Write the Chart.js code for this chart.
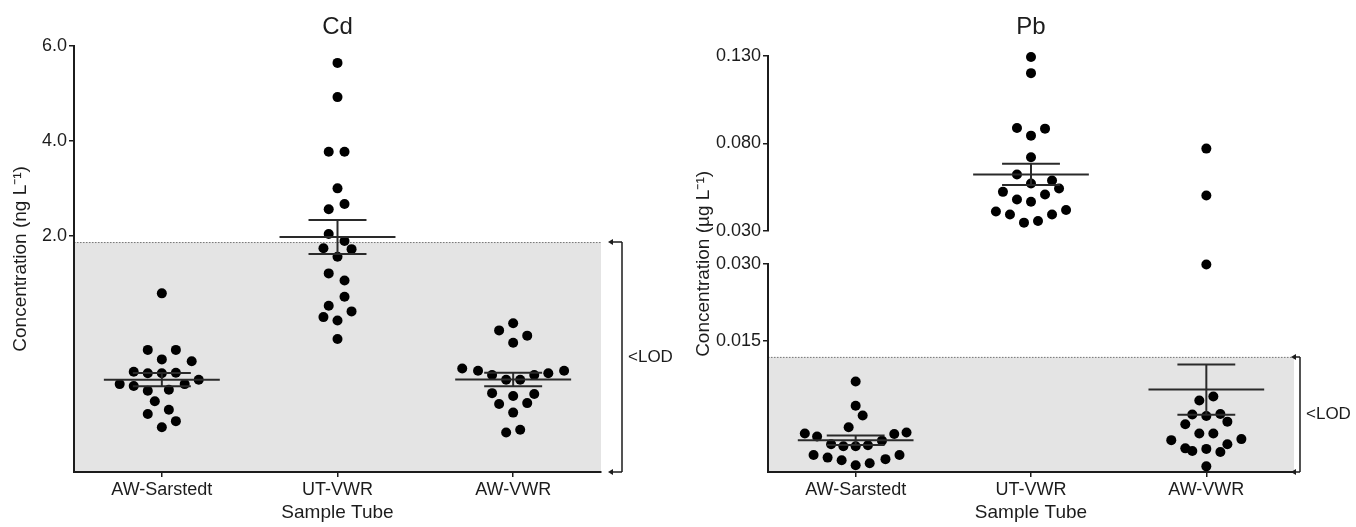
<!DOCTYPE html>
<html>
<head>
<meta charset="utf-8">
<script src="https://cdn.jsdelivr.net/npm/chart.js@4.4.0/dist/chart.umd.min.js"></script>
<style>
	html, body { margin: 0; padding: 0; background: #fff; }
	#wrap { position: relative; width: 1356px; height: 527px; }
	canvas { position: absolute; top: 0; }
	#cdChart { left: 0; }
	#pbChart { left: 678px; }
</style>
</head>
<body>
<div id="wrap">
	<canvas id="cdChart" width="678" height="527"></canvas>
	<canvas id="pbChart" width="678" height="527"></canvas>
</div>
<script>
const categories = ['AW-Sarstedt', 'UT-VWR', 'AW-VWR'];

// Cd, ng/L (blank corrected, so values under the LOD can go below zero)
const cdSarstedt = [0.79, -0.40, -0.40, -0.60, -0.64, -0.86, -0.89, -0.89, -0.88, -1.12,
	-1.16, -1.26, -1.24, -1.12, -1.03, -1.48, -1.75, -1.66, -2.03, -1.90];
const cdSarstedtJitter = [0, -0.08, 0.08, 0, 0.17, -0.16, -0.08, 0, 0.08, -0.24,
	-0.16, -0.08, 0.04, 0.13, 0.21, -0.04, -0.08, 0.04, 0, 0.08];
const cdUtVwr = [5.64, 4.92, 3.77, 3.77, 3.00, 2.56, 2.67, 2.04, 1.89, 1.74,
	1.72, 1.56, 1.21, 1.06, 0.72, 0.53, 0.41, 0.29, 0.22, -0.17];
const cdUtVwrJitter = [0, 0, -0.05, 0.04, 0, -0.05, 0.04, -0.05, 0.04, -0.08,
	0.08, 0, -0.05, 0.04, 0.04, -0.05, 0.08, -0.08, 0, 0];
const cdAwVwr = [0.16, 0.01, -0.10, -0.25, -0.79, -0.84, -0.93, -0.93, -0.89, -0.84,
	-1.03, -1.03, -1.31, -1.37, -1.33, -1.54, -1.52, -1.72, -2.14, -2.08];
const cdAwVwrJitter = [0, -0.08, 0.08, 0, -0.29, -0.2, -0.12, 0.12, 0.2, 0.29,
	-0.04, 0.04, -0.12, 0, 0.12, -0.08, 0.08, 0, -0.04, 0.04];
const cdTicks = [2.0, 4.0, 6.0];
const cdRange = [-2.97, 6.0];
const cdLod = 1.87;

// Pb, µg/L
const pbSarstedt = [0.0071, 0.0024, 0.0005, -0.0018, -0.0030, -0.0036, -0.0031, -0.0028, -0.0051, -0.0055,
	-0.0055, -0.0053, -0.0044, -0.0072, -0.0077, -0.0082, -0.0092, -0.0088, -0.0080, -0.0072];
const pbSarstedtJitter = [0, 0, 0.04, -0.04, -0.29, -0.22, 0.22, 0.29, -0.14, -0.07,
	0, 0.07, 0.15, -0.24, -0.16, -0.08, 0, 0.08, 0.17, 0.25];
const pbUtVwr = [0.1293, 0.1201, 0.0888, 0.0884, 0.0844, 0.0721, 0.0622, 0.0571, 0.0588, 0.0542,
	0.0523, 0.0508, 0.0479, 0.0466, 0.0411, 0.0394, 0.0394, 0.0419, 0.0347, 0.0356];
const pbUtVwrJitter = [0, 0, -0.08, 0.08, 0, 0, -0.08, 0, 0.12, 0.16,
	-0.16, 0.08, -0.08, 0, -0.2, -0.12, 0.12, 0.2, -0.04, 0.04];
const pbAwVwr = [0.0770, 0.0502, 0.0299, 0.0042, 0.0034, 0.0007, 0.0004, 0.0008, -0.0012, -0.0007,
	-0.0030, -0.0030, -0.0043, -0.0041, -0.0059, -0.0064, -0.0060, -0.0066, -0.0051, -0.0094];
const pbAwVwrJitter = [0, 0, 0, 0.04, -0.04, -0.08, 0, 0.08, -0.12, 0.12,
	-0.04, 0.04, -0.2, 0.2, -0.12, -0.08, 0, 0.08, 0.12, 0];
const pbHighTicks = [0.030, 0.080, 0.130];
const pbLowTicks = [0.015, 0.030];
const pbHighRange = [0.030, 0.130];
const pbLowRange = [-0.0105, 0.030];
const pbBreak = 0.030;
const pbLod = 0.0119;

const FONT = "'Liberation Sans', Arial, Helvetica, sans-serif";
const INK = '#1c1c1c';
const MEAN_HALF = 0.33;
const CAP_HALF = 0.165;

function meanSem (vals) {
	const n = vals.length;
	const m = vals.reduce((a, b) => a + b, 0) / n;
	const sd = Math.sqrt(vals.reduce((a, b) => a + (b - m) * (b - m), 0) / (n - 1));
	return { m: m, sem: sd / Math.sqrt(n) };
}

function points (vals, jitter, idx, axis, keep) {
	const data = [];
	vals.forEach((v, i) => {
		if (!keep || keep(v)) data.push({ x: idx + jitter[i], y: v });
	});
	return {
		data: data,
		yAxisID: axis,
		order: 1,
		clip: false,
		showLine: false,
		pointRadius: 5,
		pointHoverRadius: 5,
		pointBackgroundColor: '#000',
		pointBorderWidth: 0,
	};
}

function segment (x0, x1, y0, y1, axis) {
	return {
		data: [{ x: x0, y: y0 }, { x: x1, y: y1 }],
		yAxisID: axis,
		order: 0,
		clip: false,
		showLine: true,
		borderColor: '#2a2a2a',
		borderWidth: 2,
		pointRadius: 0,
		pointHoverRadius: 0,
		fill: false,
	};
}

function errorBars (vals, idx, axis) {
	const { m, sem } = meanSem(vals);
	return [
		segment(idx - MEAN_HALF, idx + MEAN_HALF, m, m, axis),
		segment(idx - CAP_HALF, idx + CAP_HALF, m + sem, m + sem, axis),
		segment(idx - CAP_HALF, idx + CAP_HALF, m - sem, m - sem, axis),
		segment(idx, idx, m - sem, m + sem, axis),
	];
}

// grey <LOD band, dotted limit line and the bracket on the right
function lodPlugin (axisId, lod, gap, stub) {
	return {
		id: 'lod',
		beforeDraw (chart) {
			const { ctx, chartArea } = chart;
			const top = chart.scales[axisId].getPixelForValue(lod);
			ctx.save();
			ctx.fillStyle = '#e4e4e4';
			ctx.fillRect(chartArea.left, top, chartArea.right - chartArea.left, chartArea.bottom - top);
			ctx.strokeStyle = '#777';
			ctx.lineWidth = 1;
			ctx.setLineDash([1.5, 1.5]);
			ctx.beginPath();
			ctx.moveTo(chartArea.left, top + 0.5);
			ctx.lineTo(chartArea.right, top + 0.5);
			ctx.stroke();
			ctx.restore();
		},
		afterDraw (chart) {
			const { ctx, chartArea } = chart;
			const top = chart.scales[axisId].getPixelForValue(lod);
			const bottom = chartArea.bottom;
			const x = chartArea.right + gap;
			ctx.save();
			ctx.strokeStyle = INK;
			ctx.fillStyle = INK;
			ctx.lineWidth = 1.5;
			ctx.beginPath();
			ctx.moveTo(x, top);
			ctx.lineTo(x, bottom);
			ctx.moveTo(x, top);
			ctx.lineTo(x - stub, top);
			ctx.moveTo(x, bottom);
			ctx.lineTo(x - stub, bottom);
			ctx.stroke();
			[top, bottom].forEach(y => {
				ctx.beginPath();
				ctx.moveTo(x - stub - 2, y);
				ctx.lineTo(x - stub + 3, y - 3);
				ctx.lineTo(x - stub + 3, y + 3);
				ctx.closePath();
				ctx.fill();
			});
			ctx.font = '17px ' + FONT;
			ctx.textAlign = 'left';
			ctx.textBaseline = 'middle';
			ctx.fillText('<LOD', x + 6, (top + bottom) / 2);
			ctx.restore();
		},
	};
}

const tickFont = { family: FONT, size: 18 };
const titleFont = { family: FONT, size: 19 };

function xAxis () {
	return {
		type: 'linear',
		min: -0.5,
		max: 2.5,
		afterBuildTicks: s => { s.ticks = categories.map((c, i) => ({ value: i })); },
		afterFit: s => { s.height = 55; },
		ticks: { callback: v => categories[Math.round(v)], font: tickFont, color: INK, padding: 2, maxRotation: 0 },
		grid: { display: true, drawOnChartArea: false, drawTicks: true, tickLength: 5, color: INK, lineWidth: 1.5 },
		border: { display: true, color: INK, width: 2 },
		title: { display: true, text: 'Sample Tube', font: titleFont, color: INK, padding: { top: 0, bottom: 3 } },
	};
}

function valueAxis (range, ticks, digits, width, extra) {
	return Object.assign({
		type: 'linear',
		position: 'left',
		min: range[0],
		max: range[1],
		afterBuildTicks: s => { s.ticks = ticks.map(v => ({ value: v })); },
		afterFit: s => { s.width = width; },
		ticks: { callback: v => v.toFixed(digits), font: tickFont, color: INK, padding: 2 },
		grid: { display: true, drawOnChartArea: false, drawTicks: true, tickLength: 5, color: INK, lineWidth: 1.5 },
		border: { display: true, color: INK, width: 2 },
	}, extra || {});
}

function chartTitle (text, bottom) {
	return {
		display: true,
		text: text,
		fullSize: false,
		font: { family: FONT, size: 24, weight: 'normal' },
		color: INK,
		padding: { top: 13, bottom: bottom },
	};
}

const baseOptions = {
	responsive: false,
	animation: false,
	events: [],
};

new Chart(document.getElementById('cdChart').getContext('2d'), {
	type: 'scatter',
	data: {
		datasets: [
			points(cdSarstedt, cdSarstedtJitter, 0, 'y'),
			points(cdUtVwr, cdUtVwrJitter, 1, 'y'),
			points(cdAwVwr, cdAwVwrJitter, 2, 'y'),
			...errorBars(cdSarstedt, 0, 'y'),
			...errorBars(cdUtVwr, 1, 'y'),
			...errorBars(cdAwVwr, 2, 'y'),
		],
	},
	options: Object.assign({}, baseOptions, {
		layout: { padding: { left: 0, right: 77, top: 0, bottom: 0 } },
		plugins: {
			legend: { display: false },
			tooltip: { enabled: false },
			title: chartTitle('Cd', 4),
		},
		scales: {
			x: xAxis(),
			y: valueAxis(cdRange, cdTicks, 1, 74, {
				title: { display: true, text: 'Concentration (ng L⁻¹)', font: titleFont, color: INK, padding: { top: 9, bottom: 0 } },
			}),
		},
	}),
	plugins: [lodPlugin('y', cdLod, 21, 12)],
});

const high = v => v > pbBreak;
const low = v => v <= pbBreak;
const pbAxis = vals => (meanSem(vals).m > pbBreak ? 'yHigh' : 'yLow');

new Chart(document.getElementById('pbChart').getContext('2d'), {
	type: 'scatter',
	data: {
		datasets: [
			points(pbSarstedt, pbSarstedtJitter, 0, 'yLow', low),
			points(pbSarstedt, pbSarstedtJitter, 0, 'yHigh', high),
			points(pbUtVwr, pbUtVwrJitter, 1, 'yLow', low),
			points(pbUtVwr, pbUtVwrJitter, 1, 'yHigh', high),
			points(pbAwVwr, pbAwVwrJitter, 2, 'yLow', low),
			points(pbAwVwr, pbAwVwrJitter, 2, 'yHigh', high),
			...errorBars(pbSarstedt, 0, pbAxis(pbSarstedt)),
			...errorBars(pbUtVwr, 1, pbAxis(pbUtVwr)),
			...errorBars(pbAwVwr, 2, pbAxis(pbAwVwr)),
		],
	},
	options: Object.assign({}, baseOptions, {
		layout: { padding: { left: 0, right: 62, top: 0, bottom: 0 } },
		plugins: {
			legend: { display: false },
			tooltip: { enabled: false },
			title: chartTitle('Pb', 14),
		},
		scales: {
			yTitle: {
				type: 'linear',
				position: 'left',
				weight: 10,
				afterFit: s => { s.width = 36; },
				ticks: { display: false },
				grid: { display: false },
				border: { display: false },
				title: { display: true, text: 'Concentration (µg L⁻¹)', font: titleFont, color: INK, padding: { top: 14, bottom: 0 } },
			},
			yLow: valueAxis(pbLowRange, pbLowTicks, 3, 54, { stack: 'pb', stackWeight: 208 }),
			yGap: {
				type: 'linear',
				position: 'left',
				stack: 'pb',
				stackWeight: 33,
				afterFit: s => { s.width = 54; },
				ticks: { display: false },
				grid: { display: false },
				border: { display: false },
			},
			yHigh: valueAxis(pbHighRange, pbHighTicks, 3, 54, { stack: 'pb', stackWeight: 175 }),
			x: xAxis(),
		},
	}),
	plugins: [lodPlugin('yLow', pbLod, 6, 7)],
});
</script>
</body>
</html>
